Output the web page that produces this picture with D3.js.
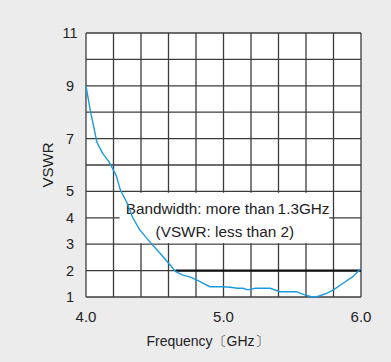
<!DOCTYPE html>
<html>
<head>
<meta charset="utf-8">
<script src="https://cdn.jsdelivr.net/npm/d3@7"></script>
<style>
    body { margin: 0; background: #ececec; }
    #chart-area { width: 391px; height: 362px; }
    text { font-family: "Liberation Sans", Arial, sans-serif; fill: #222; }
</style>
</head>
<body>
<div id="chart-area"></div>
<script>

// frequency (GHz) and measured VSWR along the curve
let freqValues = [4.0, 4.03, 4.06, 4.08, 4.12, 4.17, 4.22, 4.25, 4.30, 4.34, 4.39, 4.47, 4.54, 4.61, 4.65,
                  4.70, 4.76, 4.83, 4.90, 5.00, 5.05, 5.10, 5.14, 5.18, 5.23, 5.34, 5.41, 5.53, 5.59,
                  5.64, 5.68, 5.75, 5.80, 5.87, 5.94, 6.0];
let vswrValues = [9.0, 8.1, 7.35, 6.85, 6.45, 6.1, 5.6, 5.05, 4.55, 4.0, 3.55, 3.05, 2.65, 2.22, 1.97,
                  1.84, 1.75, 1.58, 1.39, 1.39, 1.37, 1.33, 1.33, 1.27, 1.33, 1.33, 1.2, 1.2, 1.08,
                  1.01, 1.01, 1.14, 1.27, 1.52, 1.77, 2.08];

// axis ticks
let xTickLabels = [4.0, 5.0, 6.0];
let yTickLabels = [1, 2, 3, 4, 5, 7, 9, 11];
let xGridValues = [4.0, 4.2, 4.4, 4.6, 4.8, 5.0, 5.2, 5.4, 5.6, 5.8, 6.0];
let yGridValues = [1, 2, 3, 4, 5, 6, 7, 8, 9, 10, 11];

// bandwidth marker (VSWR < 2)
let bandStart = 4.65;
let bandEnd = 6.0;
let bandLevel = 2;
let noteLines = ["Bandwidth: more than\u20091.3GHz", "(VSWR: less than 2)"];


class VswrChart {

    constructor(parentElement) {
        this.parentElement = parentElement;
        this.initVis();
    }

    initVis() {
        let vis = this;

        vis.margin = {top: 33, right: 30, bottom: 65, left: 86};
        vis.width = 391 - vis.margin.left - vis.margin.right;
        vis.height = 362 - vis.margin.top - vis.margin.bottom;

        vis.svg = d3.select("#" + vis.parentElement)
            .append("svg")
            .attr("width", 391)
            .attr("height", 362)
            .append("g")
            .attr("transform", `translate(${vis.margin.left},${vis.margin.top})`);

        // scales
        vis.x = d3.scaleLinear().domain([4.0, 6.0]).range([0, vis.width]);
        vis.y = d3.scaleLinear().domain([1, 11]).range([vis.height, 0]);

        // plot background
        vis.svg.append("rect")
            .attr("width", vis.width)
            .attr("height", vis.height)
            .attr("fill", "white");

        vis.updateVis();
    }

    updateVis() {
        let vis = this;

        // grid lines
        vis.svg.append("g")
            .attr("class", "grid-x")
            .selectAll("line")
            .data(xGridValues)
            .join("line")
            .attr("x1", d => vis.x(d))
            .attr("x2", d => vis.x(d))
            .attr("y1", 0)
            .attr("y2", vis.height)
            .attr("stroke", "#3c3c3c")
            .attr("stroke-width", 1.3);

        vis.svg.append("g")
            .attr("class", "grid-y")
            .selectAll("line")
            .data(yGridValues)
            .join("line")
            .attr("x1", 0)
            .attr("x2", vis.width)
            .attr("y1", d => vis.y(d))
            .attr("y2", d => vis.y(d))
            .attr("stroke", "#3c3c3c")
            .attr("stroke-width", 1.3);

        // note box hides the grid behind the text
        vis.svg.append("rect")
            .attr("x", vis.x(4.245))
            .attr("y", vis.y(4.95))
            .attr("width", vis.x(5.77) - vis.x(4.245))
            .attr("height", vis.y(3.04) - vis.y(4.95))
            .attr("fill", "white");

        vis.svg.selectAll(".note")
            .data(noteLines)
            .join("text")
            .attr("class", "note")
            .attr("x", (d, i) => vis.x(i === 0 ? 5.03 : 5.01))
            .attr("y", (d, i) => vis.y(4.0) - 4 + i * 23)
            .attr("text-anchor", "middle")
            .style("font-size", "15.3px")
            .text(d => d);

        // bandwidth line
        vis.svg.append("line")
            .attr("x1", vis.x(bandStart))
            .attr("x2", vis.x(bandEnd))
            .attr("y1", vis.y(bandLevel))
            .attr("y2", vis.y(bandLevel))
            .attr("stroke", "#111")
            .attr("stroke-width", 2.2);

        // VSWR curve
        let line = d3.line()
            .x(d => vis.x(d[0]))
            .y(d => vis.y(d[1]));

        vis.svg.append("path")
            .datum(freqValues.map((f, i) => [f, vswrValues[i]]))
            .attr("d", line)
            .attr("fill", "none")
            .attr("stroke", "#1a9be0")
            .attr("stroke-width", 1.4);

        // tick labels
        vis.svg.selectAll(".x-label")
            .data(xTickLabels)
            .join("text")
            .attr("class", "x-label")
            .attr("x", d => vis.x(d))
            .attr("y", vis.height + 25)
            .attr("text-anchor", "middle")
            .style("font-size", "15px")
            .text(d => d3.format(".1f")(d));

        vis.svg.selectAll(".y-label")
            .data(yTickLabels)
            .join("text")
            .attr("class", "y-label")
            .attr("x", -16)
            .attr("y", d => vis.y(d) + 5)
            .attr("text-anchor", "middle")
            .style("font-size", "14.5px")
            .text(d => d);

        // axis titles
        vis.svg.append("text")
            .attr("x", vis.width / 2 - 16)
            .attr("y", vis.height + 49)
            .attr("text-anchor", "middle")
            .style("font-size", "14px")
            .text("Frequency\u3014GHz\u3015");

        vis.svg.append("text")
            .attr("transform", `translate(-33,${vis.height / 2}) rotate(-90)`)
            .attr("text-anchor", "middle")
            .style("font-size", "15px")
            .text("VSWR");
    }
}

let vswrChart = new VswrChart("chart-area");

</script>
</body>
</html>
